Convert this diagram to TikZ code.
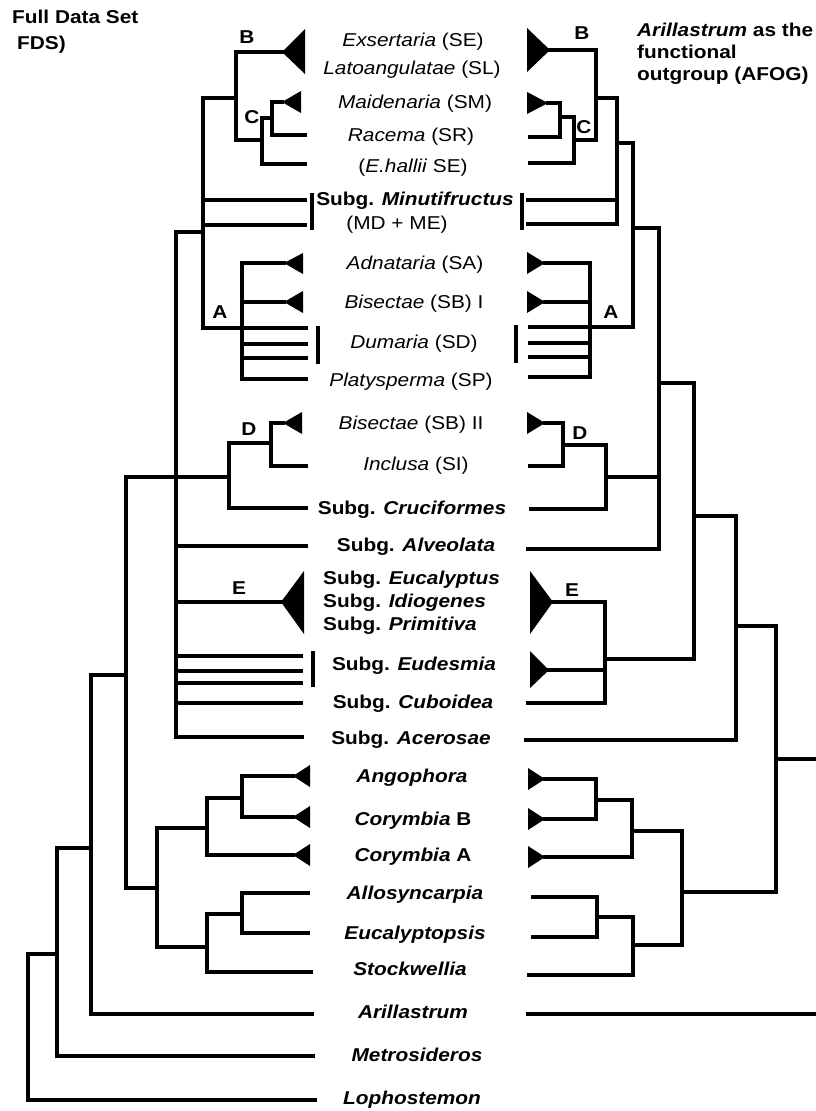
\documentclass[tikz,border=0pt]{standalone}
\usepackage{fontspec}
\setmainfont{Liberation Sans}[FakeStretch=1.12]
\begin{document}
\begin{tikzpicture}[x=1pt,y=-1pt,
  br/.style={line width=3.4pt, line join=miter, line cap=rect},
  bar/.style={line width=3.2pt},
  tx/.style={font=\fontsize{18.6}{22}\selectfont, anchor=base, inner sep=0pt},
  hd/.style={font=\bfseries\fontsize{18.6}{22}\selectfont, anchor=base west, inner sep=0pt},
  cl/.style={font=\bfseries\fontsize{18.6}{22}\selectfont, inner sep=0pt},
  tri/.style={fill=black}]
\useasboundingbox (0,0) rectangle (815,1111);

% ---------- headings ----------
\node[hd] (fds1) at (12,23.5) {Full Data Set};
\node[hd] (fds2) at (17,49.5) {FDS)};
\node[hd] (afog1) at (637,36) {\textit{Arillastrum} as the};
\node[hd] (afog2) at (637,58) {functional};
\node[hd] (afog3) at (637,80) {outgroup (AFOG)};

% ---------- taxon labels ----------
\node[tx] (t1) at (413,46.5) {\textit{Exsertaria} (SE)};
\node[tx] (t2) at (412,74.5) {\textit{Latoangulatae} (SL)};
\node[tx] (t3) at (415,108.5) {\textit{Maidenaria} (SM)};
\node[tx] (t4) at (411,141.5) {\textit{Racema} (SR)};
\node[tx] (t5) at (413,172.5) {(\textit{E.hallii} SE)};
\node[tx] (t6) at (415,205.5) {\textbf{Subg. \textit{Minutifructus}}};
\node[tx] (t7) at (397,229.5) {(MD + ME)};
\node[tx] (t8) at (415,269.5) {\textit{Adnataria} (SA)};
\node[tx] (t9) at (414,308.5) {\textit{Bisectae} (SB) I};
\node[tx] (t10) at (414,348.5) {\textit{Dumaria} (SD)};
\node[tx] (t11) at (411,386.5) {\textit{Platysperma} (SP)};
\node[tx] (t12) at (411,429.5) {\textit{Bisectae} (SB) II};
\node[tx] (t13) at (416,470.5) {\textit{Inclusa} (SI)};
\node[tx] (t14) at (412,514.5) {\textbf{Subg. \textit{Cruciformes}}};
\node[tx] (t15) at (416,551.5) {\textbf{Subg. \textit{Alveolata}}};
\node[tx, anchor=base west] (t16) at (323,584.5) {\textbf{Subg. \textit{Eucalyptus}}};
\node[tx, anchor=base west] (t17) at (323,607.5) {\textbf{Subg. \textit{Idiogenes}}};
\node[tx, anchor=base west] (t18) at (323,630.5) {\textbf{Subg. \textit{Primitiva}}};
\node[tx] (t19) at (414,670.5) {\textbf{Subg. \textit{Eudesmia}}};
\node[tx] (t20) at (413,708.5) {\textbf{Subg. \textit{Cuboidea}}};
\node[tx] (t21) at (411,744.5) {\textbf{Subg. \textit{Acerosae}}};
\node[tx] (t22) at (412,782.5) {\textbf{\textit{Angophora}}};
\node[tx] (t23) at (413,825.5) {\textbf{\textit{Corymbia} B}};
\node[tx] (t24) at (413,861.5) {\textbf{\textit{Corymbia} A}};
\node[tx] (t25) at (415,899.5) {\textbf{\textit{Allosyncarpia}}};
\node[tx] (t26) at (415,939.5) {\textbf{\textit{Eucalyptopsis}}};
\node[tx] (t27) at (410,975.5) {\textbf{\textit{Stockwellia}}};
\node[tx] (t28) at (413,1018.5) {\textbf{\textit{Arillastrum}}};
\node[tx] (t29) at (417,1061.5) {\textbf{\textit{Metrosideros}}};
\node[tx] (t30) at (412,1104.5) {\textbf{\textit{Lophostemon}}};

% ---------- clade letters ----------
\node[cl] (lBl) at (247,37) {B};
\node[cl] (lCl) at (252,117) {C};
\node[cl] (lAl) at (220,312) {A};
\node[cl] (lDl) at (249,429) {D};
\node[cl] (lEl) at (239,588) {E};
\node[cl] (lBr) at (582,33) {B};
\node[cl] (lCr) at (584,127) {C};
\node[cl] (lAr) at (611,312) {A};
\node[cl] (lDr) at (580,433) {D};
\node[cl] (lEr) at (572,590) {E};

% ================= LEFT TREE (FDS) =================
\fill[tri] (282,52) -- (305,29) -- (305,74) -- cycle;
\fill[tri] (282,102) -- (301,91) -- (301,113) -- cycle;
\fill[tri] (284,263) -- (303,253) -- (303,274) -- cycle;
\fill[tri] (284,302) -- (303,291) -- (303,313) -- cycle;
\fill[tri] (283,423) -- (302,412) -- (302,434) -- cycle;
\fill[tri] (281,602) -- (304,571) -- (304,634) -- cycle;
\fill[tri] (293,776) -- (310,765) -- (310,787) -- cycle;
\fill[tri] (293,817) -- (310,806) -- (310,828) -- cycle;
\fill[tri] (293,855) -- (310,844) -- (310,866) -- cycle;
% B + C
\draw[br] (282,52) -- (236,52) -- (236,140) -- (262,140);
\draw[br] (282,102) -- (272,102) -- (272,135) -- (305,135);
\draw[br] (272,118) -- (262,118) -- (262,164) -- (305,164);
\draw[br] (236,98) -- (203,98) -- (203,328) -- (242,328);
\draw[br] (203,200) -- (305,200);
\draw[br] (203,225) -- (305,225);
\draw[bar] (312,193) -- (312,230);
% A
\draw[br] (284,263) -- (242,263) -- (242,379) -- (306,379);
\draw[br] (284,302) -- (242,302);
\draw[br] (242,328) -- (306,328);
\draw[br] (242,344) -- (306,344);
\draw[br] (242,358) -- (306,358);
\draw[bar] (318,326) -- (318,364);
% spine x=176
\draw[br] (203,232) -- (176,232) -- (176,737) -- (302,737);
% D
\draw[br] (283,423) -- (271,423) -- (271,466) -- (306,466);
\draw[br] (271,443) -- (229,443) -- (229,508) -- (306,508);
\draw[br] (126,477) -- (229,477);
% others on x=176
\draw[br] (176,546) -- (306,546);
\draw[br] (176,602) -- (281,602);
\draw[br] (176,656) -- (301,656);
\draw[br] (176,671) -- (301,671);
\draw[br] (176,683) -- (301,683);
\draw[bar] (313,651) -- (313,687);
\draw[br] (176,703) -- (301,703);
% lower
\draw[br] (126,477) -- (126,888) -- (157,888);
\draw[br] (207,828) -- (157,828) -- (157,947) -- (207,947);
\draw[br] (242,798) -- (207,798) -- (207,855) -- (293,855);
\draw[br] (293,776) -- (242,776) -- (242,817) -- (293,817);
\draw[br] (242,914) -- (207,914) -- (207,972) -- (311,972);
\draw[br] (308,893) -- (242,893) -- (242,933) -- (308,933);
\draw[br] (126,675) -- (91,675) -- (91,1014) -- (312,1014);
\draw[br] (91,848) -- (57,848) -- (57,1056) -- (313,1056);
\draw[br] (57,954) -- (28,954) -- (28,1100) -- (315,1100);

% ================= RIGHT TREE (AFOG) =================
\fill[tri] (550,50) -- (527,28) -- (527,72) -- cycle;
\fill[tri] (548,103) -- (527,92) -- (527,114) -- cycle;
\fill[tri] (545,263) -- (527,252) -- (527,274) -- cycle;
\fill[tri] (545,302) -- (527,291) -- (527,313) -- cycle;
\fill[tri] (545,423) -- (527,412) -- (527,434) -- cycle;
\fill[tri] (553,602) -- (530,571) -- (530,634) -- cycle;
\fill[tri] (549,670) -- (530,651) -- (530,688) -- cycle;
\fill[tri] (545,779) -- (528,768) -- (528,790) -- cycle;
\fill[tri] (545,819) -- (528,808) -- (528,830) -- cycle;
\fill[tri] (545,857) -- (528,846) -- (528,868) -- cycle;
% B + C
\draw[br] (550,50) -- (596,50) -- (596,140) -- (574,140);
\draw[br] (548,103) -- (560,103) -- (560,137) -- (530,137);
\draw[br] (560,117) -- (574,117) -- (574,163) -- (530,163);
\draw[br] (596,98) -- (617,98) -- (617,224) -- (528,224);
\draw[br] (617,200) -- (528,200);
\draw[bar] (522,193) -- (522,230);
\draw[br] (617,143) -- (633,143) -- (633,327) -- (590,327);
% A
\draw[br] (545,263) -- (590,263) -- (590,377) -- (530,377);
\draw[br] (545,302) -- (590,302);
\draw[br] (590,327) -- (530,327);
\draw[br] (590,343) -- (530,343);
\draw[br] (590,357) -- (530,357);
\draw[bar] (516,325) -- (516,363);
% spine
\draw[br] (633,228) -- (659,228) -- (659,549) -- (528,549);
% D
\draw[br] (545,423) -- (563,423) -- (563,466) -- (530,466);
\draw[br] (563,445) -- (606,445) -- (606,509) -- (531,509);
\draw[br] (606,477) -- (659,477);
\draw[br] (659,383) -- (694,383) -- (694,659) -- (605,659);
% E
\draw[br] (553,602) -- (605,602) -- (605,703) -- (528,703);
\draw[br] (549,670) -- (605,670);
\draw[br] (694,516) -- (736,516) -- (736,740) -- (526,740);
\draw[br] (736,626) -- (776,626) -- (776,892) -- (682,892);
\draw[br] (776,759) -- (815,759);
% lower clade
\draw[br] (632,831) -- (682,831) -- (682,945) -- (633,945);
\draw[br] (596,800) -- (632,800) -- (632,857) -- (545,857);
\draw[br] (545,779) -- (596,779) -- (596,819) -- (545,819);
\draw[br] (597,917) -- (633,917) -- (633,975) -- (529,975);
\draw[br] (533,897) -- (597,897) -- (597,937) -- (533,937);
\draw[br] (528,1014) -- (815,1014);
\end{tikzpicture}
\end{document}
